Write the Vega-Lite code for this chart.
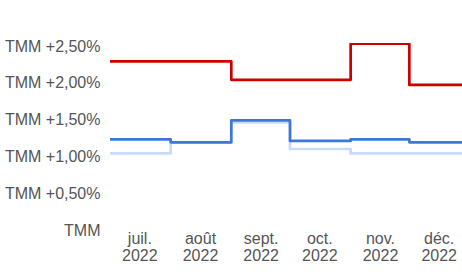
{
  "$schema": "https://vega.github.io/schema/vega-lite/v6.json",
  "autosize": "none",
  "width": 352,
  "height": 184,
  "padding": {"left": 110, "top": 43, "right": 0, "bottom": 50},
  "background": "white",
  "config": {
    "view": {"stroke": null},
    "font": "Liberation Sans",
    "axis": {"labelFont": "Liberation Sans", "labelFontSize": 16, "labelColor": "#555555", "grid": false, "domain": false, "ticks": false, "title": null}
  },
  "data": {
    "values": [
      {"date": "2022-07-01", "serie": "light", "value": 1.0},
      {"date": "2022-08-01", "serie": "light", "value": 1.15},
      {"date": "2022-09-01", "serie": "light", "value": 1.42},
      {"date": "2022-10-01", "serie": "light", "value": 1.06},
      {"date": "2022-11-01", "serie": "light", "value": 1.0},
      {"date": "2022-12-01", "serie": "light", "value": 1.0},
      {"date": "2023-01-01", "serie": "light", "value": 1.0},
      {"date": "2022-07-01", "serie": "dark", "value": 1.19},
      {"date": "2022-08-01", "serie": "dark", "value": 1.15},
      {"date": "2022-09-01", "serie": "dark", "value": 1.45},
      {"date": "2022-10-01", "serie": "dark", "value": 1.17},
      {"date": "2022-11-01", "serie": "dark", "value": 1.19},
      {"date": "2022-12-01", "serie": "dark", "value": 1.15},
      {"date": "2023-01-01", "serie": "dark", "value": 1.15},
      {"date": "2022-07-01", "serie": "red", "value": 2.25},
      {"date": "2022-08-01", "serie": "red", "value": 2.25},
      {"date": "2022-09-01", "serie": "red", "value": 2.0},
      {"date": "2022-10-01", "serie": "red", "value": 2.0},
      {"date": "2022-11-01", "serie": "red", "value": 2.49},
      {"date": "2022-12-01", "serie": "red", "value": 1.93},
      {"date": "2023-01-01", "serie": "red", "value": 1.93}
    ]
  },
  "mark": {"type": "line", "interpolate": "step-after", "strokeWidth": 2.7, "strokeJoin": "round", "strokeCap": "butt", "clip": true},
  "encoding": {
    "x": {
      "field": "date",
      "type": "temporal",
      "scale": {"type": "utc", "domain": [{"year": 2022, "month": 7, "date": 1, "utc": true}, {"year": 2022, "month": 12, "date": 27, "hours": 22, "utc": true}]},
      "axis": {
        "values": [
          {"year": 2022, "month": 7, "date": 16, "utc": true},
          {"year": 2022, "month": 8, "date": 16, "utc": true},
          {"year": 2022, "month": 9, "date": 16, "utc": true},
          {"year": 2022, "month": 10, "date": 16, "utc": true},
          {"year": 2022, "month": 11, "date": 16, "utc": true},
          {"year": 2022, "month": 12, "date": 16, "utc": true}
        ],
        "labelExpr": "[['janv.','févr.','mars','avr.','mai','juin','juil.','août','sept.','oct.','nov.','déc.'][utcmonth(datum.value)], '' + utcyear(datum.value)]",
        "labelPadding": 3,
        "labelLineHeight": 17,
        "labelAlign": "center",
        "labelOverlap": false,
        "labelFlush": false
      }
    },
    "y": {
      "field": "value",
      "type": "quantitative",
      "scale": {"domain": [0, 2.5], "nice": false, "zero": true},
      "axis": {
        "values": [0, 0.5, 1, 1.5, 2, 2.5],
        "labelExpr": "datum.value == 0 ? 'TMM' : 'TMM +' + replace(format(datum.value, '.2f'), '.', ',') + '%'",
        "labelPadding": 10,
        "labelOffset": 3
      }
    },
    "color": {
      "field": "serie",
      "type": "nominal",
      "scale": {"domain": ["light", "dark", "red"], "range": ["#c9daf8", "#3c78d8", "#cc0000"]},
      "legend": null
    },
    "order": {"field": "serie"}
  }
}
